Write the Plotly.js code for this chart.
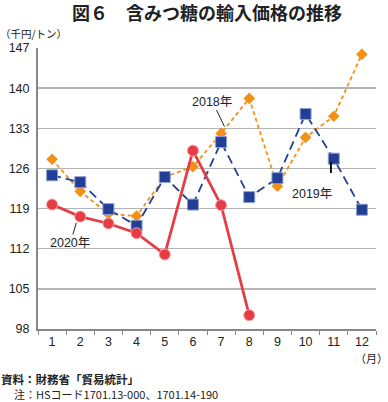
<!DOCTYPE html>
<html><head><meta charset="utf-8">
<script src="https://cdn.plot.ly/plotly-3.0.1.min.js"></script>
<style>html,body{margin:0;padding:0;background:#fff}</style>
</head><body><div id="chart" style="width:388px;height:402px"></div>
<script>
const months = ["1","2","3","4","5","6","7","8","9","10","11","12"];
const yTicks = [98,105,112,119,126,133,140,147];
const y2018 = [127.6,122.0,118.1,117.7,124.5,126.3,132.1,138.2,122.9,131.4,135.1,145.9];
const y2019 = [124.8,123.6,118.9,116.0,124.5,119.7,130.6,121.0,124.3,135.5,127.7,118.8];
const y2020 = [119.7,117.6,116.4,114.7,111.0,129.1,119.6,100.4];

const W=388,H=402,L=38,R=12,T=48,B=73;
const pw=W-L-R, ph=H-T-B;
const px=x=>(x-L)/pw, py=y=>(H-B-y)/ph;
const FONT='"Liberation Sans","Noto Sans CJK JP",sans-serif';
const JP='"Noto Sans CJK JP","Liberation Sans",sans-serif';

const traces=[
 {x:months,y:y2018,type:'scatter',mode:'lines+markers',name:'2018年',
  line:{color:'#f39019',width:1.8,dash:'4px,3px'},
  marker:{symbol:'diamond',size:9,color:'#f39019'}},
 {x:months,y:y2019,type:'scatter',mode:'lines+markers',name:'2019年',
  line:{color:'#233e96',width:1.8,dash:'9px,5px'},
  marker:{symbol:'square',size:11,color:'#233e96',line:{color:'#8da0cf',width:1}}},
 {x:months.slice(0,y2020.length),y:y2020,type:'scatter',mode:'lines+markers',name:'2020年',
  line:{color:'#e63c46',width:2.8},
  marker:{symbol:'circle',size:11,color:'#e63c46',line:{color:'#f3a0a5',width:1}}}
];

const layout={
 width:W,height:H,margin:{l:L,r:R,t:T,b:B},
 paper_bgcolor:'#fff',plot_bgcolor:'#fff',showlegend:false,
 font:{family:FONT,color:'#222',size:12},
 title:{text:'図６　含みつ糖の輸入価格の推移',x:0.5,xref:'paper',y:1-14/H,yanchor:'middle',
   font:{family:JP,size:18,color:'#222',weight:'bold'}},
 xaxis:{type:'category',range:[-0.5,11.5],tickson:'boundaries',ticks:'outside',ticklen:4,tickcolor:'#888',
   showline:true,linecolor:'#888',linewidth:2,showgrid:false,zeroline:false,
   tickfont:{family:FONT,size:12.5,color:'#222'},fixedrange:true},
 yaxis:{range:[98,147],tickvals:yTicks,ticktext:yTicks.map(String),ticks:'',
   showline:true,linecolor:'#888',linewidth:2,showgrid:true,gridcolor:'#b4b4b4',gridwidth:1.5,zeroline:false,
   tickfont:{family:FONT,size:12.5,color:'#222'},ticklabelstandoff:4},
 shapes:[
  {type:'line',xref:'x',yref:'y',x0:9.9,x1:9.9,y0:127.2,y1:125.2,line:{color:'#111',width:2}}
 ],
 annotations:[
  {text:'2018年',x:6.12,y:133.3,xref:'x',yref:'y',showarrow:true,arrowhead:0,arrowwidth:1,arrowcolor:'#222',
   ax:-12,ay:-25,font:{family:FONT,size:12.5,color:'#222'}},
  {text:'2020年',x:0.86,y:116.5,xref:'x',yref:'y',showarrow:true,arrowhead:0,arrowwidth:1,arrowcolor:'#222',
   ax:-6,ay:20,font:{family:FONT,size:12.5,color:'#222'}},
  {text:'2019年',x:9.24,y:121.6,xref:'x',yref:'y',showarrow:false,font:{family:FONT,size:12.5,color:'#222'}},
  {text:'（千円/トン）',x:px(-2),y:py(34),xref:'paper',yref:'paper',xanchor:'left',yanchor:'middle',showarrow:false,
   font:{family:JP,size:10.5,color:'#222'}},
  {text:'（月）',x:px(390),y:py(358),xref:'paper',yref:'paper',xanchor:'right',yanchor:'middle',showarrow:false,
   font:{family:JP,size:11,color:'#222'}},
  {text:'<b>資料：財務省「貿易統計」</b>',x:px(-1),y:py(379),xref:'paper',yref:'paper',xanchor:'left',yanchor:'middle',showarrow:false,
   font:{family:JP,size:11.5,color:'#222'}},
  {text:'注：HSコード1701.13-000、1701.14-190',x:px(12),y:py(394),xref:'paper',yref:'paper',xanchor:'left',yanchor:'middle',showarrow:false,
   font:{family:JP,size:11,color:'#222'}}
 ]
};
Plotly.newPlot('chart',traces,layout,{displayModeBar:false,staticPlot:true});
</script></body></html>
